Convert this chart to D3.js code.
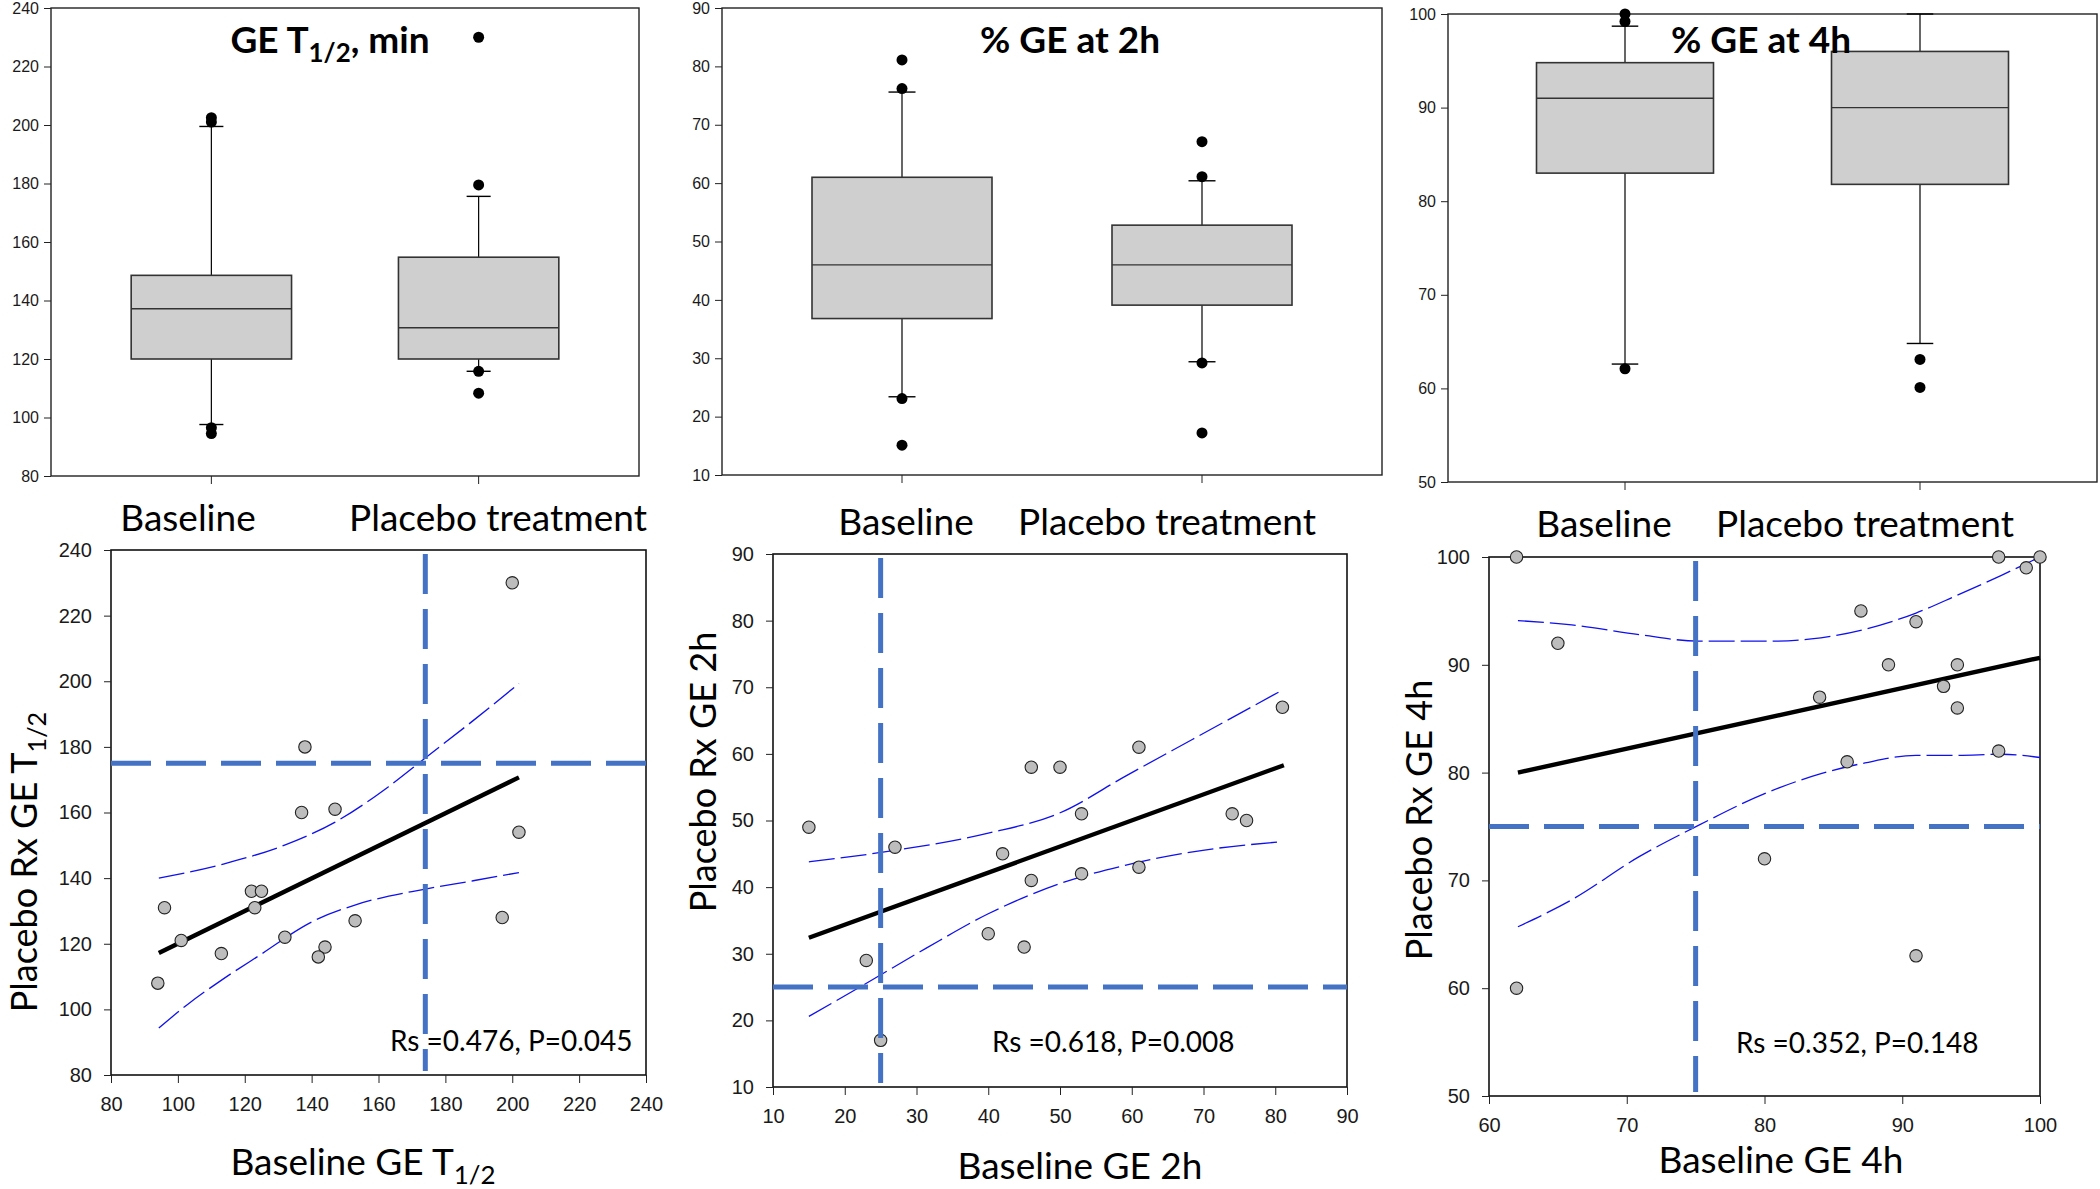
<!DOCTYPE html>
<html lang="en">
<head>
  <meta charset="UTF-8">
  <title>Gastric emptying: baseline vs placebo treatment</title>
  <script src="https://d3js.org/d3.v7.min.js"></script>
  <style>
    body { margin: 0; background: #fff; }
    svg { display: block; }
    .tick text { font-family: "Liberation Sans", Arial, sans-serif; fill: #1a1a1a; }
    .tick line { stroke: #222; }
    .lbl { font-family: Lato, "Noto Sans", sans-serif; fill: #000; }
  </style>
</head>
<body>
  <div id="chart"></div>

  <script>
    // ---- data ----
    const groups = ["Baseline", "Placebo treatment"];

    // box plots: whisker low, q1, median, q3, whisker high, outliers
    const t12Box = [
      { lo: 97.6, q1: 120, med: 137.2, q3: 148.6, hi: 199.5, out: [202.5, 201, 96.5, 94.5] },
      { lo: 115.8, q1: 120, med: 130.7, q3: 154.8, hi: 175.6, out: [230, 179.5, 115.8, 108.3] }
    ];
    const ge2Box = [
      { lo: 23.4, q1: 36.8, med: 46, q3: 61, hi: 75.6, out: [81.1, 76.2, 23.1, 15.1] },
      { lo: 29.4, q1: 39.1, med: 46, q3: 52.8, hi: 60.4, out: [67.1, 61.1, 29.2, 17.2] }
    ];
    const ge4Box = [
      { lo: 62.6, q1: 83, med: 91, q3: 94.8, hi: 98.7, out: [100, 99.2, 62.1] },
      { lo: 64.8, q1: 81.8, med: 90, q3: 96, hi: 100, out: [63.1, 60.1] }
    ];

    // scatter: baseline vs placebo, per subject
    const t12Base = [200, 138, 137, 147, 202, 122, 125, 123, 96, 197, 153, 132, 101, 113, 144, 142, 94];
    const t12Plac = [230, 180, 160, 161, 154, 136, 136, 131, 131, 128, 127, 122, 121, 117, 119, 116, 108];
    const ge2Base = [15, 27, 23, 25, 40, 42, 45, 46, 46, 50, 53, 53, 61, 61, 74, 76, 81];
    const ge2Plac = [49, 46, 29, 17, 33, 45, 31, 58, 41, 58, 51, 42, 61, 43, 51, 50, 67];
    const ge4Base = [62, 62, 65, 80, 84, 86, 87, 89, 91, 91, 93, 94, 94, 97, 97, 99, 100];
    const ge4Plac = [100, 60, 92, 72, 87, 81, 95, 90, 94, 63, 88, 90, 86, 100, 82, 99, 100];

    // regression lines and 95% bands as drawn
    const t12Fit = [[94.3, 117.2], [202, 170.7]];
    const t12Up = [[94.3, 140], [113.6, 144.3], [132.3, 150.2], [146.9, 157], [162.9, 167.8], [173.6, 176.3], [188.3, 188], [202, 199.3]];
    const t12Lo = [[94.3, 94.3], [102.9, 101.5], [113.6, 109.3], [124.3, 116.4], [140.3, 126.8], [153.6, 132], [173.6, 136.6], [188.3, 139.2], [202, 141.7]];
    const ge2Fit = [[15, 32.4], [81.2, 58.3]];
    const ge2Up = [[15, 43.8], [25, 45.2], [40, 48.1], [49.9, 51.1], [59.2, 56.7], [68.5, 62.2], [80.7, 69.4]];
    const ge2Lo = [[15, 20.6], [22.9, 25.5], [31.3, 30.8], [40, 36], [49.9, 40.5], [59.2, 43.3], [68.5, 45.3], [80.7, 46.8]];
    const ge4Fit = [[62.1, 80], [100, 90.65]];
    const ge4Up = [[62.1, 94.1], [66, 93.7], [70.9, 92.8], [75.2, 92.2], [80.8, 92.2], [83.4, 92.4], [87.3, 93.3], [91, 94.8], [93.9, 96.4], [97.2, 98.3], [100, 100]];
    const ge4Lo = [[62.1, 65.7], [66, 68.2], [70.9, 72.2], [75.2, 75.1], [80.1, 78.1], [84.1, 79.9], [87.3, 80.9], [91, 81.6], [93.9, 81.6], [97.2, 81.7], [100, 81.4]];

    // cut-off reference lines [x, y]
    const t12Ref = [174, 175];
    const ge2Ref = [25, 25];
    const ge4Ref = [75, 75];

    const t12Ticks = d3.range(80, 241, 20);
    const ge2Ticks = d3.range(10, 91, 10);
    const ge4Ticks = d3.range(50, 101, 10);
    const ge4XTicks = d3.range(60, 101, 10);

    const stats = ["Rs =0.476, P=0.045", "Rs =0.618, P=0.008", "Rs =0.352, P=0.148"];

    // ---- drawing ----
    const svg = d3.select("#chart").append("svg")
      .attr("width", 2100)
      .attr("height", 1189);

    // text with an optional subscript part: parts = [main, sub, rest]
    function subText(sel, parts, size) {
      sel.append("tspan").text(parts[0]);
      if (parts[1]) {
        sel.append("tspan").text(parts[1]).attr("dy", size * 0.25).style("font-size", (size * 0.7) + "px");
        sel.append("tspan").text(parts[2] || "").attr("dy", -size * 0.25);
      }
    }

    function boxPanel(p) {
      const g = svg.append("g");
      const x = d3.scaleBand().domain(groups).range([p.x0, p.x1]).paddingInner(0.4).paddingOuter(0.3);
      const y = d3.scaleLinear().domain(p.domain).range([p.y1, p.y0]);

      g.append("rect")
        .attr("x", p.x0).attr("y", p.y0)
        .attr("width", p.x1 - p.x0).attr("height", p.y1 - p.y0)
        .attr("fill", "none").attr("stroke", "#222").attr("stroke-width", 1.4);

      g.append("g")
        .attr("transform", `translate(${p.x0},0)`)
        .call(d3.axisLeft(y).tickValues(p.ticks).tickSize(7).tickPadding(5))
        .call(a => a.select(".domain").remove())
        .selectAll("text").style("font-size", "16px");

      g.append("g")
        .attr("transform", `translate(0,${p.y1})`)
        .call(d3.axisBottom(x).tickSize(8).tickFormat(""))
        .call(a => a.select(".domain").remove());

      const bw = x.bandwidth();
      const cap = bw * 0.075;
      p.data.forEach((d, i) => {
        const cx = x(groups[i]) + bw / 2;
        const b = g.append("g");
        b.append("line").attr("x1", cx).attr("x2", cx).attr("y1", y(d.hi)).attr("y2", y(d.q3))
          .attr("stroke", "#000").attr("stroke-width", 1.2);
        b.append("line").attr("x1", cx).attr("x2", cx).attr("y1", y(d.q1)).attr("y2", y(d.lo))
          .attr("stroke", "#000").attr("stroke-width", 1.2);
        [d.hi, d.lo].forEach(v => {
          b.append("line").attr("x1", cx - cap).attr("x2", cx + cap).attr("y1", y(v)).attr("y2", y(v))
            .attr("stroke", "#000").attr("stroke-width", 1.4);
        });
        b.append("rect")
          .attr("x", x(groups[i])).attr("y", y(d.q3))
          .attr("width", bw).attr("height", y(d.q1) - y(d.q3))
          .attr("fill", "#cfcfcf").attr("stroke", "#333").attr("stroke-width", 1.6);
        b.append("line").attr("x1", x(groups[i])).attr("x2", x(groups[i]) + bw)
          .attr("y1", y(d.med)).attr("y2", y(d.med))
          .attr("stroke", "#333").attr("stroke-width", 1.4);
        b.selectAll("circle.out").data(d.out).enter().append("circle")
          .attr("cx", cx).attr("cy", v => y(v)).attr("r", 5.5).attr("fill", "#000");
      });

      const t = g.append("text").attr("class", "lbl")
        .attr("x", p.titleX).attr("y", 53)
        .attr("text-anchor", "middle")
        .style("font-size", "37px").style("font-weight", "bold");
      subText(t, p.title, 37);

      groups.forEach((name, i) => {
        g.append("text").attr("class", "lbl")
          .attr("x", p.labelX[i]).attr("y", p.labelY)
          .attr("text-anchor", "middle")
          .style("font-size", "37px")
          .text(name);
      });
    }

    function scatterPanel(p) {
      const g = svg.append("g");
      const x = d3.scaleLinear().domain(p.xdom).range([p.x0, p.x1]);
      const y = d3.scaleLinear().domain(p.ydom).range([p.y1, p.y0]);

      g.append("rect")
        .attr("x", p.x0).attr("y", p.y0)
        .attr("width", p.x1 - p.x0).attr("height", p.y1 - p.y0)
        .attr("fill", "none").attr("stroke", "#111").attr("stroke-width", 1.6);

      g.append("g")
        .attr("transform", `translate(${p.x0},0)`)
        .call(d3.axisLeft(y).tickValues(p.yticks).tickSize(7).tickPadding(12))
        .call(a => a.select(".domain").remove())
        .selectAll("text").style("font-size", "20px");

      g.append("g")
        .attr("transform", `translate(0,${p.y1})`)
        .call(d3.axisBottom(x).tickValues(p.xticks).tickSize(8).tickPadding(14))
        .call(a => a.select(".domain").remove())
        .selectAll("text").style("font-size", "20px");

      const line = d3.line().x(d => x(d[0])).y(d => y(d[1]));
      const band = d3.line().x(d => x(d[0])).y(d => y(d[1])).curve(d3.curveMonotoneX);

      [p.up, p.lo].forEach(arr => {
        g.append("path").attr("d", band(arr))
          .attr("fill", "none").attr("stroke", "#1010ee")
          .attr("stroke-width", 1.3).attr("stroke-dasharray", "26,6");
      });

      g.append("path").attr("d", line(p.fit))
        .attr("fill", "none").attr("stroke", "#000").attr("stroke-width", 4.4);

      g.selectAll("circle.pt").data(p.bx).enter().append("circle")
        .attr("cx", (v) => x(v))
        .attr("cy", (v, i) => y(p.py[i]))
        .attr("r", 6.2)
        .attr("fill", "#bdbdbd").attr("stroke", "#222").attr("stroke-width", 1.1);

      g.append("text").attr("class", "lbl")
        .attr("x", p.statX).attr("y", p.statY)
        .style("font-size", "28px")
        .text(p.stat);

      // cut-off lines on top
      g.append("line")
        .attr("x1", x(p.ref[0])).attr("x2", x(p.ref[0]))
        .attr("y1", p.y0 + 4).attr("y2", p.y1 - 4)
        .attr("stroke", "#4472c4").attr("stroke-width", 5).attr("stroke-dasharray", "40,15");
      g.append("line")
        .attr("x1", p.x0).attr("x2", p.x1)
        .attr("y1", y(p.ref[1])).attr("y2", y(p.ref[1]))
        .attr("stroke", "#4472c4").attr("stroke-width", 5).attr("stroke-dasharray", "40,15");

      const yl = g.append("text").attr("class", "lbl")
        .attr("transform", `translate(${p.ylabX},${p.ylabY}) rotate(-90)`)
        .attr("text-anchor", "middle")
        .style("font-size", "36px");
      subText(yl, p.ylab, 36);

      const xl = g.append("text").attr("class", "lbl")
        .attr("x", p.xlabX).attr("y", p.xlabY)
        .attr("text-anchor", "middle")
        .style("font-size", "37px");
      subText(xl, p.xlab, 37);
    }

    boxPanel({
      x0: 51, x1: 639, y0: 8, y1: 476, domain: [80, 240], ticks: t12Ticks, data: t12Box,
      title: ["GE T", "1/2", ", min"], titleX: 330, labelX: [188, 498], labelY: 531
    });
    boxPanel({
      x0: 722, x1: 1382, y0: 8, y1: 475, domain: [10, 90], ticks: ge2Ticks, data: ge2Box,
      title: ["% GE at 2h"], titleX: 1070, labelX: [906, 1167], labelY: 535
    });
    boxPanel({
      x0: 1448, x1: 2097, y0: 14, y1: 482, domain: [50, 100], ticks: ge4Ticks, data: ge4Box,
      title: ["% GE at 4h"], titleX: 1761, labelX: [1604, 1865], labelY: 537
    });

    scatterPanel({
      x0: 111, x1: 646, y0: 550, y1: 1075, xdom: [80, 240], ydom: [80, 240],
      xticks: t12Ticks, yticks: t12Ticks, bx: t12Base, py: t12Plac,
      fit: t12Fit, up: t12Up, lo: t12Lo, ref: t12Ref,
      stat: stats[0], statX: 390, statY: 1051,
      ylab: ["Placebo Rx GE T", "1/2"], ylabX: 37, ylabY: 862,
      xlab: ["Baseline GE T", "1/2"], xlabX: 363, xlabY: 1175
    });
    scatterPanel({
      x0: 773, x1: 1347, y0: 554, y1: 1087, xdom: [10, 90], ydom: [10, 90],
      xticks: ge2Ticks, yticks: ge2Ticks, bx: ge2Base, py: ge2Plac,
      fit: ge2Fit, up: ge2Up, lo: ge2Lo, ref: ge2Ref,
      stat: stats[1], statX: 992, statY: 1052,
      ylab: ["Placebo Rx GE 2h"], ylabX: 716, ylabY: 772,
      xlab: ["Baseline GE 2h"], xlabX: 1080, xlabY: 1179
    });
    scatterPanel({
      x0: 1489, x1: 2040, y0: 557, y1: 1096, xdom: [60, 100], ydom: [50, 100],
      xticks: ge4XTicks, yticks: ge4Ticks, bx: ge4Base, py: ge4Plac,
      fit: ge4Fit, up: ge4Up, lo: ge4Lo, ref: ge4Ref,
      stat: stats[2], statX: 1736, statY: 1053,
      ylab: ["Placebo Rx GE 4h"], ylabX: 1432, ylabY: 820,
      xlab: ["Baseline GE 4h"], xlabX: 1781, xlabY: 1173
    });
  </script>
</body>
</html>
